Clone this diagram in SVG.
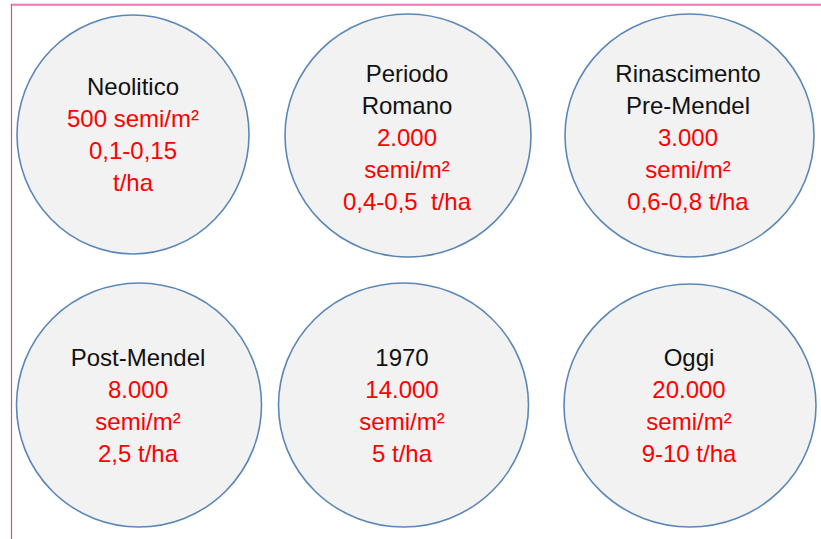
<svg xmlns="http://www.w3.org/2000/svg" width="821" height="539" viewBox="0 0 821 539">
<style>
.c{fill:#F2F2F2;stroke:#5B87B7;stroke-width:1.6}
text{font-family:"Liberation Sans",Arial,sans-serif;font-size:24px;text-anchor:middle}
.k{fill:#111111}
.r{fill:#FF0000}
</style>
<rect width="821" height="539" fill="#FFFFFF"/>
<g id="frame">
<line x1="11" y1="4.8" x2="821" y2="4.8" stroke="#EE78B4" stroke-width="2"/>
<line x1="11.5" y1="4" x2="11.5" y2="539" stroke="#E0479C" stroke-width="1.2"/>
</g>
<g id="connectors"></g>
<g id="n1">
<ellipse class="c" cx="133" cy="134.5" rx="116" ry="119.5"/>
<text class="k" x="133" y="95">Neolitico</text>
<text class="r" x="133" y="127">500 semi/m²</text>
<text class="r" x="133" y="159">0,1-0,15</text>
<text class="r" x="133" y="191">t/ha</text>
</g>
<g id="n2">
<ellipse class="c" cx="408" cy="135.5" rx="123" ry="121.5"/>
<text class="k" x="407" y="82">Periodo</text>
<text class="k" x="407" y="114">Romano</text>
<text class="r" x="407" y="146">2.000</text>
<text class="r" x="407" y="178">semi/m²</text>
<text class="r" x="407" y="210" xml:space="preserve">0,4-0,5  t/ha</text>
</g>
<g id="n3">
<ellipse class="c" cx="689.5" cy="135.5" rx="124.5" ry="121.5"/>
<text class="k" x="688" y="82">Rinascimento</text>
<text class="k" x="688" y="114">Pre-Mendel</text>
<text class="r" x="688" y="146">3.000</text>
<text class="r" x="688" y="178">semi/m²</text>
<text class="r" x="688" y="210">0,6-0,8 t/ha</text>
</g>
<g id="n4">
<ellipse class="c" cx="139" cy="405" rx="122.5" ry="122"/>
<text class="k" x="138" y="366">Post-Mendel</text>
<text class="r" x="138" y="398">8.000</text>
<text class="r" x="138" y="430">semi/m²</text>
<text class="r" x="138" y="462">2,5 t/ha</text>
</g>
<g id="n5">
<ellipse class="c" cx="403.5" cy="405" rx="125" ry="122"/>
<text class="k" x="402" y="366">1970</text>
<text class="r" x="402" y="398">14.000</text>
<text class="r" x="402" y="430">semi/m²</text>
<text class="r" x="402" y="462">5 t/ha</text>
</g>
<g id="n6">
<ellipse class="c" cx="690" cy="405.5" rx="126" ry="121.5"/>
<text class="k" x="689" y="366">Oggi</text>
<text class="r" x="689" y="398">20.000</text>
<text class="r" x="689" y="430">semi/m²</text>
<text class="r" x="689" y="462">9-10 t/ha</text>
</g>
</svg>
